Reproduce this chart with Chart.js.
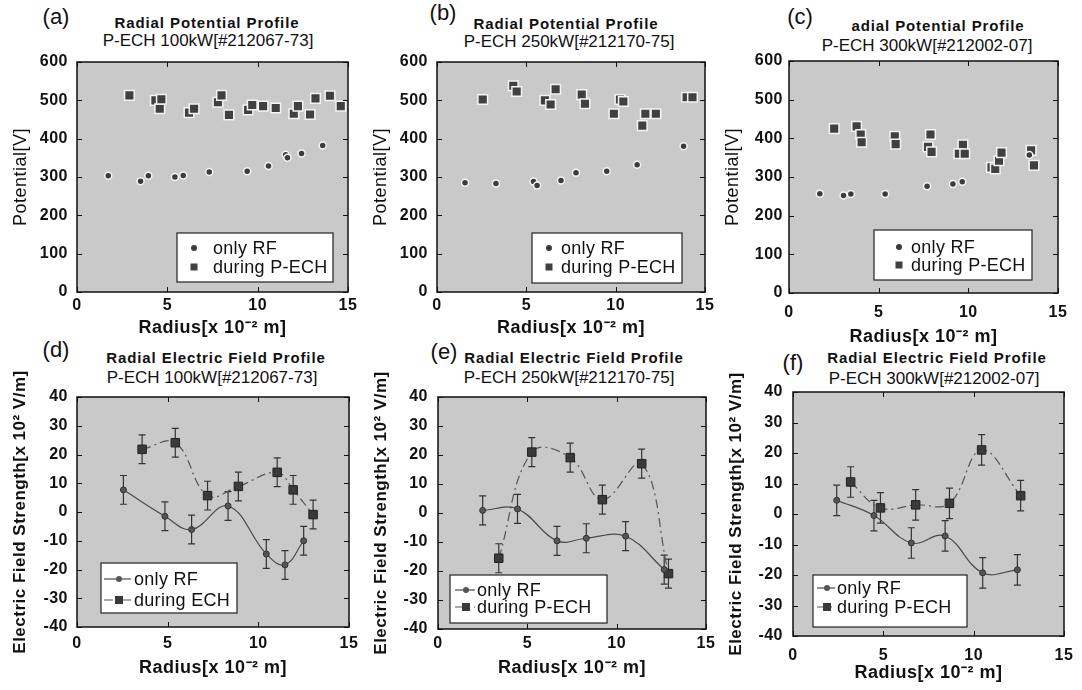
<!DOCTYPE html>
<html>
<head>
<meta charset="utf-8">
<script src="https://cdn.jsdelivr.net/npm/chart.js@4.4.0/dist/chart.umd.min.js"></script>
<style>
  body { margin: 0; background: #fff; width: 1082px; height: 690px; position: relative; overflow: hidden;
         font-family: 'Liberation Sans', Arial, sans-serif; color: #111; }
  canvas { position: absolute; }
  .lbl { position: absolute; white-space: nowrap; transform: translate(-50%, -50%); }
  .tag { font-size: 22px; }
  .t1 { font-size: 15px; font-weight: bold; letter-spacing: 0.9px; }
  .t2 { font-size: 17px; }
</style>
</head>
<body>
<!-- panel letters and titles -->
<div class="lbl tag" style="left:56px;top:17px">(a)</div>
<div class="lbl t1" style="left:207px;top:22px">Radial Potential Profile</div>
<div class="lbl t2" style="left:208px;top:41px">P-ECH 100kW[#212067-73]</div>

<div class="lbl tag" style="left:443px;top:13px">(b)</div>
<div class="lbl t1" style="left:566px;top:23px">Radial Potential Profile</div>
<div class="lbl t2" style="left:569px;top:42px">P-ECH 250kW[#212170-75]</div>

<div class="lbl tag" style="left:800px;top:17px">(c)</div>
<div class="lbl t1" style="left:938px;top:25px">adial Potential Profile</div>
<div class="lbl t2" style="left:927px;top:46px">P-ECH 300kW[#212002-07]</div>

<div class="lbl tag" style="left:56px;top:350px">(d)</div>
<div class="lbl t1" style="left:216px;top:357px">Radial Electric Field Profile</div>
<div class="lbl t2" style="left:212px;top:378px">P-ECH 100kW[#212067-73]</div>

<div class="lbl tag" style="left:444px;top:352px">(e)</div>
<div class="lbl t1" style="left:574px;top:357px">Radial Electric Field Profile</div>
<div class="lbl t2" style="left:569px;top:378px">P-ECH 250kW[#212170-75]</div>

<div class="lbl tag" style="left:793px;top:363px">(f)</div>
<div class="lbl t1" style="left:937px;top:357px">Radial Electric Field Profile</div>
<div class="lbl t2" style="left:934px;top:379px">P-ECH 300kW[#212002-07]</div>

<script>
// Tick values
const radiusTicks = [0, 5, 10, 15];
const potentialTicks = [0, 100, 200, 300, 400, 500, 600];
const fieldTicks = [-40, -30, -20, -10, 0, 10, 20, 30, 40];

// (a) potential, P-ECH 100 kW
const rfRadiusA = [1.73, 3.52, 3.95, 5.42, 5.88, 7.32, 9.42, 10.6, 11.55, 11.65, 12.43, 13.6];
const rfPotA = [303, 289, 303, 300, 304, 313, 315, 329, 358, 350, 361, 382];
const echRadiusA = [2.9, 4.34, 4.58, 4.67, 6.2, 6.48, 7.8, 8.0, 8.41, 9.47, 9.7, 10.3, 11.0, 12.0, 12.23, 12.9, 13.2, 14.0, 14.6];
const echPotA = [513, 500, 478, 503, 468, 478, 495, 513, 462, 475, 488, 485, 480, 465, 485, 463, 505, 512, 485];

// (b) potential, P-ECH 250 kW
const rfRadiusB = [1.57, 3.3, 5.4, 5.6, 6.94, 7.78, 9.5, 11.2, 13.8];
const rfPotB = [285, 283, 288, 278, 291, 311, 315, 332, 380];
const echRadiusB = [2.56, 4.27, 4.46, 6.04, 6.36, 6.64, 8.1, 8.28, 9.9, 10.24, 10.43, 11.49, 11.66, 12.25, 13.97, 14.3];
const echPotB = [502, 538, 523, 500, 489, 529, 515, 491, 465, 502, 497, 434, 465, 465, 508, 508];

// (c) potential, P-ECH 300 kW
const rfRadiusC = [1.72, 3.04, 3.45, 5.36, 7.7, 9.14, 9.66, 13.4];
const rfPotC = [257, 252, 256, 256, 276, 282, 288, 357];
const echRadiusC = [2.52, 3.77, 4.0, 4.05, 5.9, 5.95, 7.89, 7.75, 7.95, 9.7, 9.47, 9.8, 11.29, 11.5, 11.71, 11.85, 13.5, 13.66];
const echPotC = [425, 431, 410, 390, 405, 385, 410, 378, 365, 383, 360, 360, 325, 321, 342, 363, 369, 330];

// (d) electric field, P-ECH 100 kW
const rfRadiusD = [2.56, 4.85, 6.32, 8.33, 10.44, 11.47, 12.5];
const rfFieldD = [7.7, -1.5, -6.1, 2.1, -14.6, -18.4, -10];
const rfErrD = [5, 5, 5, 5, 5, 5, 5];
const echRadiusD = [3.59, 5.42, 7.2, 8.9, 11.04, 11.92, 13.02];
const echFieldD = [21.8, 24.1, 5.7, 8.9, 13.8, 7.7, -0.9];
const echErrD = [5, 5, 5, 5, 5, 5, 5];

// (e) electric field, P-ECH 250 kW
const rfRadiusE = [2.5, 4.45, 6.66, 8.3, 10.5, 12.66];
const rfFieldE = [0.9, 1.4, -9.6, -8.7, -8, -19.5];
const rfErrE = [5, 5, 5, 5, 5, 5];
const echRadiusE = [3.4, 5.25, 7.4, 9.2, 11.4, 12.9];
const echFieldE = [-15.6, 21, 19.1, 4.6, 17, -20.9];
const echErrE = [5, 5, 5, 5, 5, 5];

// (f) electric field, P-ECH 300 kW
const rfRadiusF = [2.42, 4.48, 6.55, 8.42, 10.5, 12.42];
const rfFieldF = [4.5, -0.5, -9.5, -7.2, -19.3, -18.3];
const rfErrF = [5, 5, 5, 5, 5, 5];
const echRadiusF = [3.19, 4.84, 6.79, 8.66, 10.44, 12.6];
const echFieldF = [10.5, 2, 3, 3.5, 21, 6];
const echErrF = [5, 5, 5, 5, 5, 5];

const FONT = "'Liberation Sans', Arial, sans-serif";
const PLOT_BG = '#c9c9c9';
const INK = '#111';
const PAD_TOP = 32;
const PAD_RIGHT = 24;
const Y_AXIS_W = 70;

function pts(xs, ys) {
  return xs.map((x, i) => ({ x: x, y: ys[i] }));
}

// scatter datasets for the potential panels
function potDatasets(rx, ry, ex, ey, echLabel) {
  return [
    { label: 'only RF', data: pts(rx, ry), pointStyle: 'circle', pointRadius: 3.5,
      pointBackgroundColor: '#3c3c3c', pointBorderColor: '#f4f4f4', pointBorderWidth: 1.5, showLine: false },
    { label: echLabel, data: pts(ex, ey), pointStyle: 'rect', pointRadius: 6.8,
      pointBackgroundColor: '#404040', pointBorderColor: '#f4f4f4', pointBorderWidth: 1.5, showLine: false },
  ];
}

// line + error bar datasets for the field panels
function fieldDatasets(rx, ry, re, ex, ey, ee, echLabel) {
  return [
    { label: 'only RF', data: pts(rx, ry), errorBars: re, showLine: true, tension: 0.4,
      borderColor: '#4a4a4a', borderWidth: 1.2, pointStyle: 'circle', pointRadius: 3,
      pointBackgroundColor: '#555', pointBorderColor: '#333', pointBorderWidth: 1 },
    { label: echLabel, data: pts(ex, ey), errorBars: ee, showLine: true, tension: 0.4,
      borderColor: '#555', borderWidth: 1.2, borderDash: [9, 4, 2, 4], pointStyle: 'rect', pointRadius: 6,
      pointBackgroundColor: '#3a3a3a', pointBorderColor: '#222', pointBorderWidth: 1 },
  ];
}

const panels = [
  { box: [77, 62, 348, 292], kind: 'pot', xPad: 4, xH: 51, yPad: 9,
    datasets: potDatasets(rfRadiusA, rfPotA, echRadiusA, echPotA, 'during P-ECH'),
    legend: { x: 100, y: 171, w: 156, h: 49, rows: [15, 34], mx: 17, tx: 36 } },
  { box: [437, 62, 705, 292], kind: 'pot', xPad: 4, xH: 51, yPad: 9,
    datasets: potDatasets(rfRadiusB, rfPotB, echRadiusB, echPotB, 'during P-ECH'),
    legend: { x: 95, y: 171, w: 150, h: 50, rows: [15, 34], mx: 17, tx: 29 } },
  { box: [789, 61, 1058, 293], kind: 'pot', xPad: 10, xH: 59, yPad: 6,
    datasets: potDatasets(rfRadiusC, rfPotC, echRadiusC, echPotC, 'during P-ECH'),
    legend: { x: 85, y: 169, w: 158, h: 50, rows: [17, 35], mx: 25, tx: 37 } },
  { box: [77, 397, 349, 627], kind: 'field', xPad: 7, xH: 56, yPad: 9,
    datasets: fieldDatasets(rfRadiusD, rfFieldD, rfErrD, echRadiusD, echFieldD, echErrD, 'during ECH'),
    legend: { x: 24, y: 166, w: 136, h: 50, rows: [16, 37], line: [3, 30], mx: 18, tx: 33 } },
  { box: [438, 397, 706, 629], kind: 'field', xPad: 5, xH: 54, yPad: 10,
    datasets: fieldDatasets(rfRadiusE, rfFieldE, rfErrE, echRadiusE, echFieldE, echErrE, 'during P-ECH'),
    legend: { x: 12, y: 178, w: 157, h: 48, rows: [15, 32], line: [5, 25], mx: 16, tx: 27 } },
  { box: [793, 392, 1064, 636], kind: 'field', xPad: 10, xH: 52, yPad: 10,
    datasets: fieldDatasets(rfRadiusF, rfFieldF, rfErrF, echRadiusF, echFieldF, echErrF, 'during P-ECH'),
    legend: { x: 20, y: 183, w: 154, h: 52, rows: [13, 32], line: [4, 22], mx: 14, tx: 24 } },
];

// background, error bars, frame with inward ticks, boxed legend
function makePlugin(p) {
  return {
    id: 'panelDecor',
    beforeDraw(chart) {
      const a = chart.chartArea, ctx = chart.ctx;
      ctx.letterSpacing = '0.5px';
      ctx.save();
      ctx.fillStyle = PLOT_BG;
      ctx.fillRect(a.left, a.top, a.right - a.left, a.bottom - a.top);
      ctx.restore();
    },
    beforeDatasetsDraw(chart) {
      const ctx = chart.ctx, xs = chart.scales.x, ys = chart.scales.y;
      chart.data.datasets.forEach(ds => {
        if (!ds.errorBars) return;
        ctx.save();
        ctx.strokeStyle = '#333';
        ctx.lineWidth = 1.2;
        ds.data.forEach((pt, i) => {
          const x = xs.getPixelForValue(pt.x);
          const lo = ys.getPixelForValue(pt.y - ds.errorBars[i]);
          const hi = ys.getPixelForValue(pt.y + ds.errorBars[i]);
          ctx.beginPath();
          ctx.moveTo(x, lo); ctx.lineTo(x, hi);
          ctx.moveTo(x - 3.5, lo); ctx.lineTo(x + 3.5, lo);
          ctx.moveTo(x - 3.5, hi); ctx.lineTo(x + 3.5, hi);
          ctx.stroke();
        });
        ctx.restore();
      });
    },
    afterDraw(chart) {
      const a = chart.chartArea, ctx = chart.ctx, xs = chart.scales.x, ys = chart.scales.y;
      ctx.save();
      ctx.strokeStyle = INK;
      ctx.lineWidth = 1.5;
      ctx.strokeRect(a.left, a.top, a.right - a.left, a.bottom - a.top);
      ctx.lineWidth = 1;
      ctx.beginPath();
      xs.ticks.forEach(t => {
        const x = Math.round(xs.getPixelForValue(t.value)) + 0.5;
        ctx.moveTo(x, a.bottom); ctx.lineTo(x, a.bottom - 5);
        ctx.moveTo(x, a.top); ctx.lineTo(x, a.top + 5);
      });
      ys.ticks.forEach(t => {
        const y = Math.round(ys.getPixelForValue(t.value)) + 0.5;
        ctx.moveTo(a.left, y); ctx.lineTo(a.left + 5, y);
        ctx.moveTo(a.right, y); ctx.lineTo(a.right - 5, y);
      });
      ctx.stroke();

      // legend box
      const L = p.legend;
      const bx = a.left + L.x, by = a.top + L.y;
      ctx.fillStyle = '#fff';
      ctx.fillRect(bx, by, L.w, L.h);
      ctx.lineWidth = 1.2;
      ctx.strokeStyle = '#222';
      ctx.strokeRect(bx, by, L.w, L.h);
      ctx.font = '18px ' + FONT;
      ctx.letterSpacing = '0.3px';
      ctx.textBaseline = 'middle';
      ctx.textAlign = 'left';
      chart.data.datasets.forEach((ds, i) => {
        const ry = by + L.rows[i];
        if (L.line) {
          ctx.save();
          ctx.strokeStyle = ds.borderColor;
          ctx.lineWidth = 1.2;
          ctx.setLineDash(ds.borderDash || []);
          ctx.beginPath();
          ctx.moveTo(bx + L.line[0], ry); ctx.lineTo(bx + L.line[1], ry);
          ctx.stroke();
          ctx.restore();
        }
        ctx.fillStyle = ds.pointBackgroundColor;
        if (ds.pointStyle === 'rect') {
          const s = p.kind === 'pot' ? 7 : 8;
          ctx.fillRect(bx + L.mx - s / 2, ry - s / 2, s, s);
        } else {
          ctx.beginPath();
          ctx.arc(bx + L.mx, ry, 3, 0, Math.PI * 2);
          ctx.fill();
        }
        ctx.fillStyle = INK;
        ctx.fillText(ds.label, bx + L.tx, ry + 1);
      });
      ctx.restore();
    },
  };
}

panels.forEach(p => {
  const [L, T, R, B] = p.box;
  const canvas = document.createElement('canvas');
  const w = Y_AXIS_W + (R - L) + PAD_RIGHT;
  const h = PAD_TOP + (B - T) + p.xH;
  canvas.width = w;
  canvas.height = h;
  canvas.style.left = (L - Y_AXIS_W) + 'px';
  canvas.style.top = (T - PAD_TOP) + 'px';
  canvas.style.width = w + 'px';
  canvas.style.height = h + 'px';
  document.body.appendChild(canvas);

  const isPot = p.kind === 'pot';
  const yTicks = isPot ? potentialTicks : fieldTicks;

  new Chart(canvas, {
    type: 'scatter',
    data: { datasets: p.datasets },
    plugins: [makePlugin(p)],
    options: {
      responsive: false,
      animation: false,
      devicePixelRatio: 1,
      layout: { padding: { top: PAD_TOP, right: PAD_RIGHT, left: 0, bottom: 0 } },
      plugins: { legend: { display: false }, tooltip: { enabled: false } },
      scales: {
        x: {
          type: 'linear', min: 0, max: 15,
          afterBuildTicks: s => { s.ticks = radiusTicks.map(v => ({ value: v })); },
          afterFit: s => { s.height = p.xH; },
          grid: { display: false, drawTicks: false },
          border: { display: false },
          ticks: { padding: p.xPad, color: INK, maxRotation: 0, font: { family: FONT, size: 16, weight: 'bold' } },
          title: { display: true, text: 'Radius[x 10\u207B\u00B2 m]', color: INK, padding: { top: 4, bottom: 4 },
                   font: { family: FONT, size: 18, weight: 'bold' } },
        },
        y: {
          type: 'linear', min: yTicks[0], max: yTicks[yTicks.length - 1],
          afterBuildTicks: s => { s.ticks = yTicks.map(v => ({ value: v })); },
          afterFit: s => { s.width = Y_AXIS_W; },
          grid: { display: false, drawTicks: false },
          border: { display: false },
          ticks: { padding: p.yPad, color: INK, font: { family: FONT, size: 16, weight: 'bold' } },
          title: { display: true, text: isPot ? 'Potential[V]' : 'Electric Field Strength[x 10\u00B2 V/m]',
                   color: INK, padding: { top: 3, bottom: 3 },
                   font: { family: FONT, size: isPot ? 18 : 17, weight: isPot ? 'normal' : 'bold' } },
        },
      },
    },
  });
});
</script>
</body>
</html>
